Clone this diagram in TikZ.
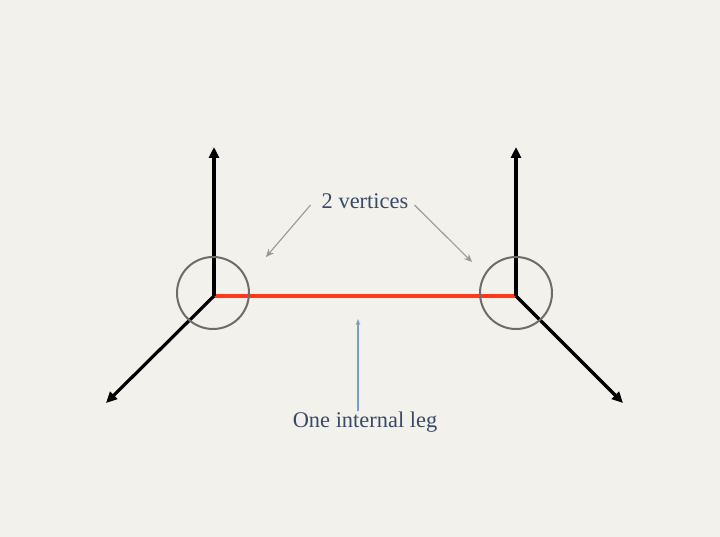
\documentclass[tikz,border=0pt]{standalone}
\usepackage{fontspec}
\setmainfont{Liberation Serif}
\usepackage{xcolor}
\definecolor{paper}{HTML}{F3F1EC}
\definecolor{ink}{HTML}{3A4A66}
\definecolor{leg}{HTML}{FF3A1C}
\definecolor{ring}{HTML}{6E6C6A}
\definecolor{pointer}{HTML}{9A9896}
\definecolor{pointer2}{HTML}{7C9CC4}
\usepackage{tikz}
\usetikzlibrary{arrows.meta,positioning}
\tikzset{
  ext/.style={-{Triangle[length=11bp,width=10bp]},line width=3.2bp,black},
  inleg/.style={line width=3.4bp,draw=leg},
  vring/.style={circle,draw=ring,line width=2bp,minimum size=72bp,inner sep=0pt},
  lab/.style={font=\fontsize{22.5}{26}\selectfont,text=ink,inner sep=1bp},
  ptr/.style={-{Stealth[length=8bp,width=7bp]},draw=pointer,line width=1.1bp},
  bptr/.style={-{Stealth[length=6bp,width=4.5bp]},draw=pointer2,line width=1.2bp},
}
\begin{document}
\begin{tikzpicture}[x=1bp,y=-1bp]
\fill[paper] (0,0) rectangle (720,537);
\useasboundingbox (0,0) rectangle (720,537);
% vertices
\coordinate (va) at (214,296);
\coordinate (vb) at (516,296);
% external legs
\coordinate (a1) at (214,147);
\coordinate (a2) at (106,403);
\coordinate (b1) at (516,147);
\coordinate (b2) at (623,403);
\draw[inleg] (va) -- (vb);
\draw[ext] (va) -- (a1);
\draw[ext] (va) -- (a2);
\draw[ext] (vb) -- (b1);
\draw[ext] (vb) -- (b2);
\node[vring] (ra) at (213,293) {};
\node[vring] (rb) at (516,293) {};
% labels
\node[lab] (twov) at (365,201) {2 vertices};
\node[lab] (oleg) at (365,422) {One internal leg};
\coordinate (ta) at (266,257);
\coordinate (tb) at (472,262);
\coordinate (tl) at (358,319);
\coordinate (pa) at ([xshift=-10bp,yshift=-4bp]twov.west);
\coordinate (pb) at ([xshift=5bp,yshift=-4bp]twov.east);
\coordinate (pc) at (358,411);
\draw[ptr] (pa) -- (ta);
\draw[ptr] (pb) -- (tb);
\draw[bptr] (pc) -- (tl);
\end{tikzpicture}
\end{document}
